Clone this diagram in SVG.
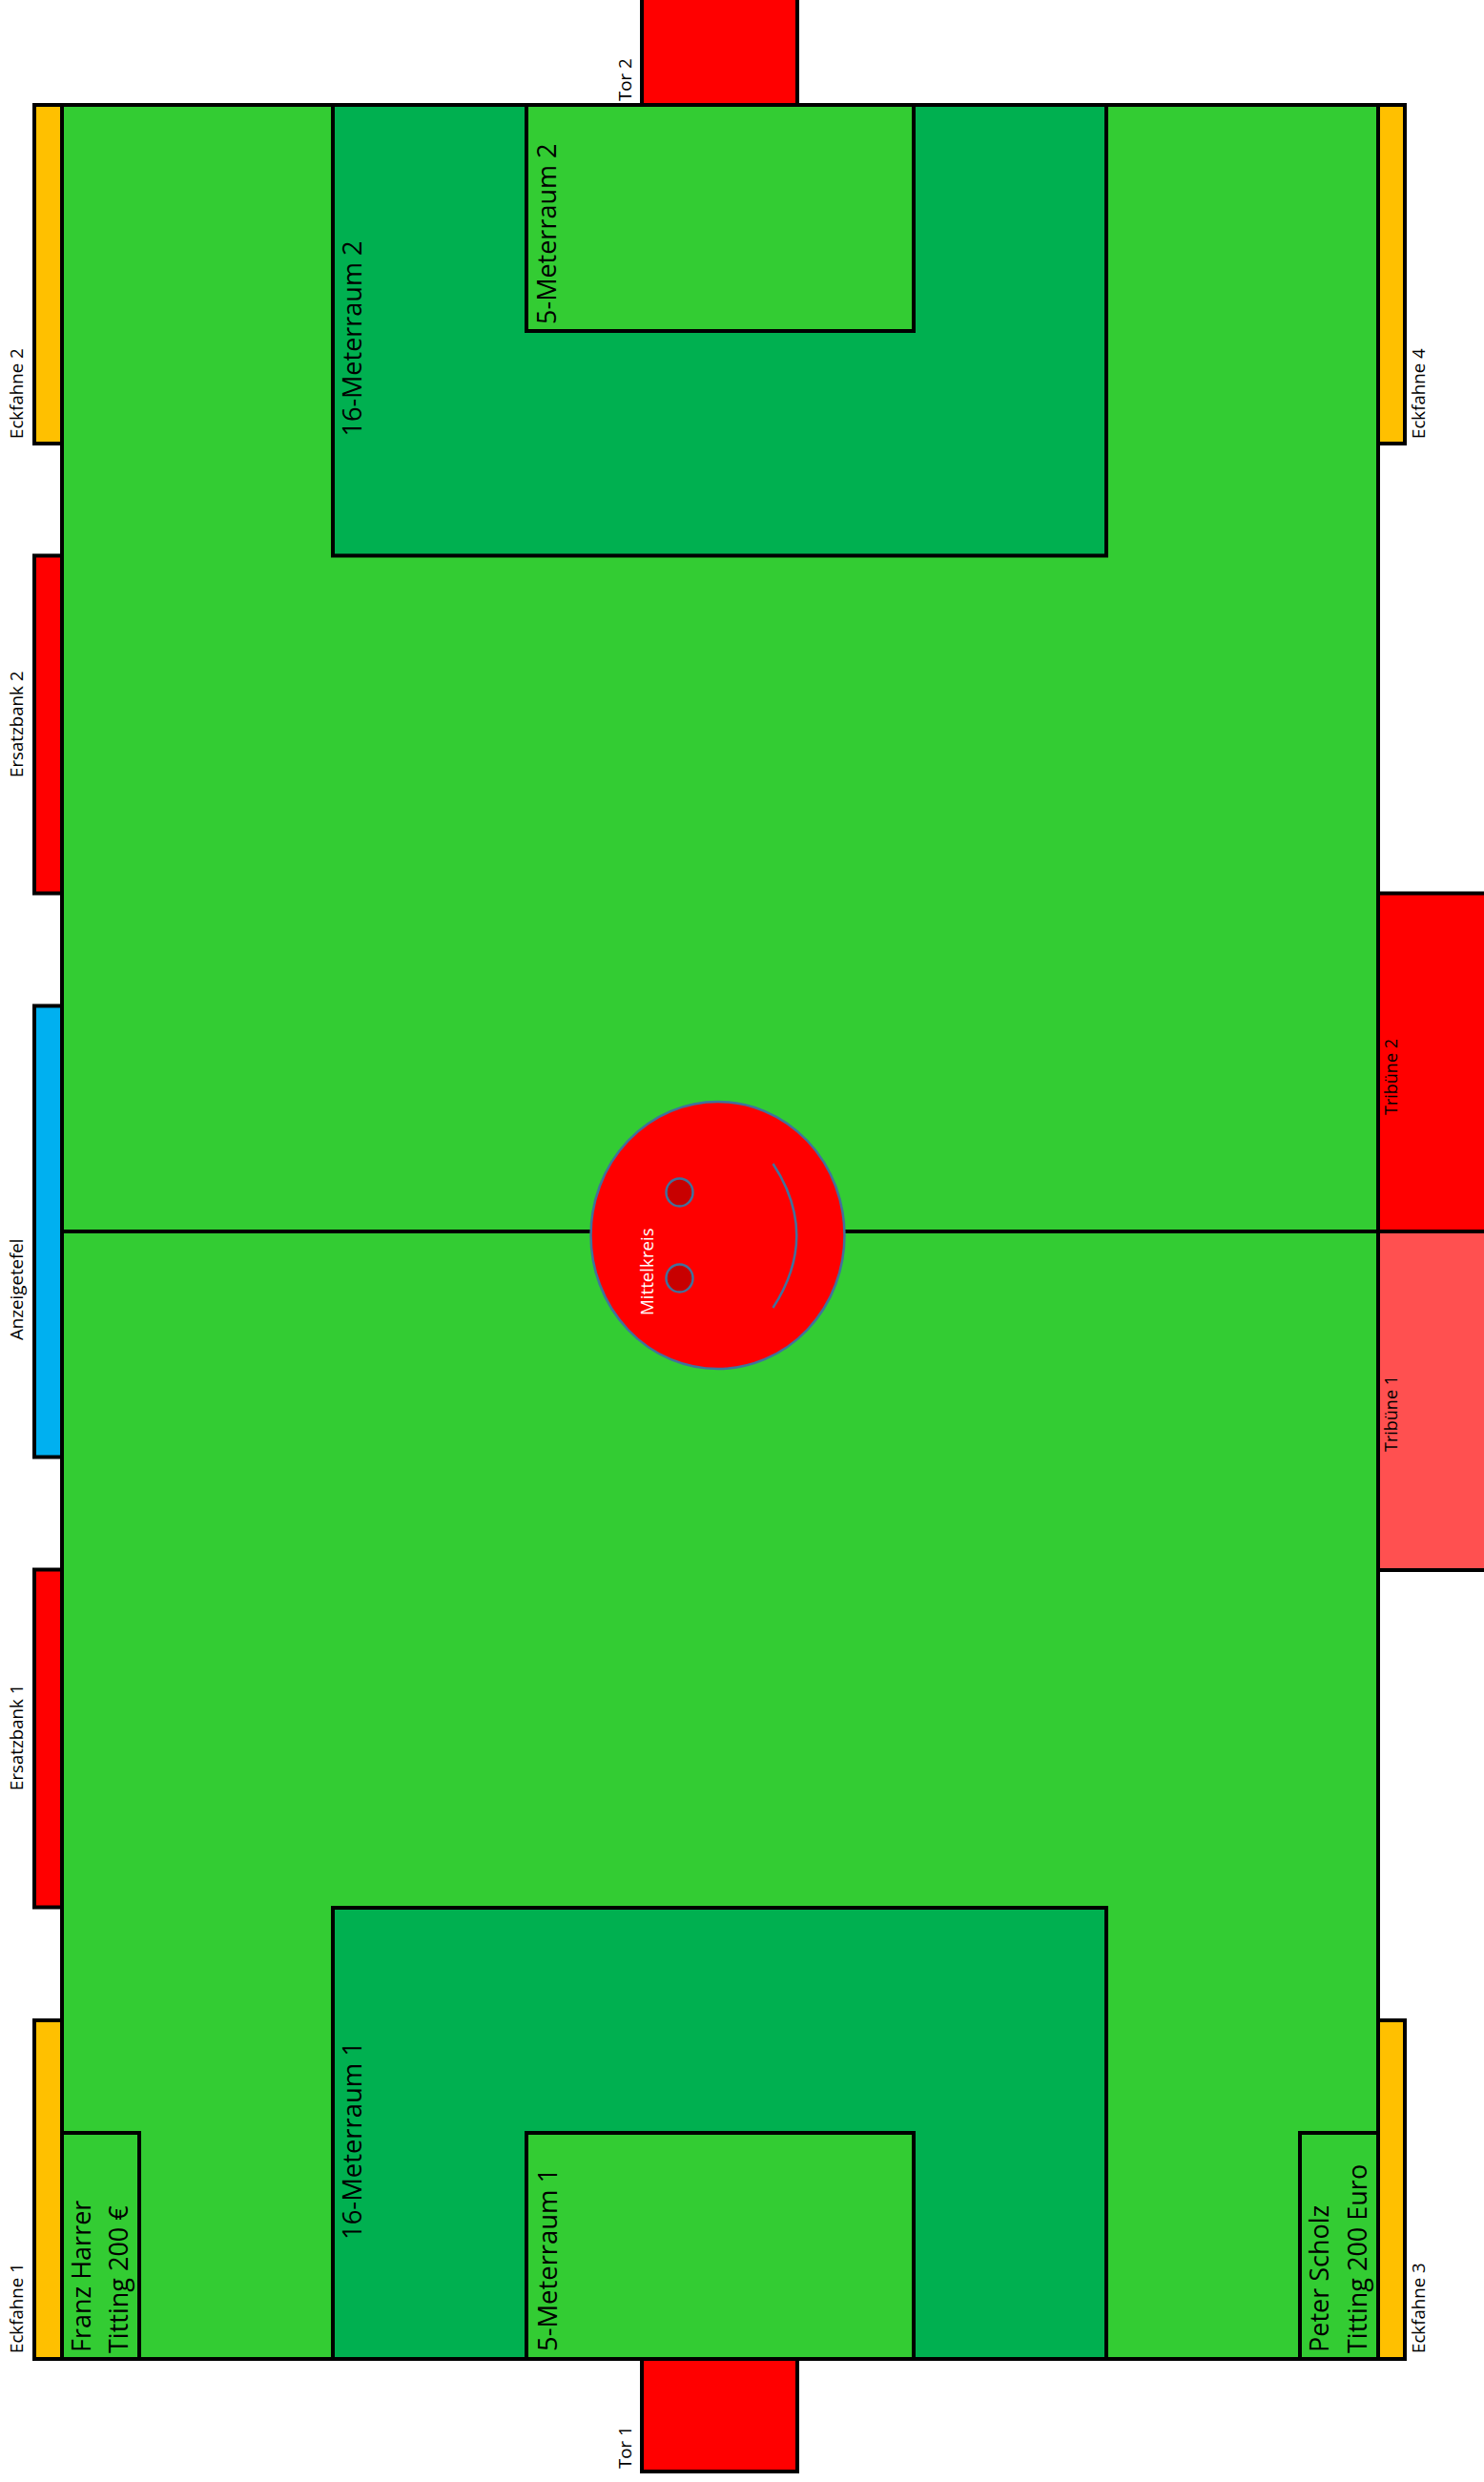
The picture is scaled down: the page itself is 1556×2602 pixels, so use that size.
<svg xmlns="http://www.w3.org/2000/svg" width="1556" height="2602" viewBox="0 0 1556 2602">
<style>
.b{stroke:#000;stroke-width:4;stroke-linejoin:miter}
.g{fill:#33cc33}.d{fill:#00b050}.y{fill:#ffc000}.r{fill:#f00}.l{fill:#ff5050}.c{fill:#00b0f0}
.n{fill:none}
text{font-family:"Open Sans","Noto Sans","Liberation Sans",sans-serif;fill:#000}
.s{font-size:18.7px}.t{font-size:18px}.m{font-size:27px}.k{font-size:27.4px}
.f{stroke:#41719c;stroke-width:2.5}
</style>
<g id="eckfahne-1"><rect class="b y" x="36" y="2118" width="29" height="355"/><text class="s" transform="translate(24 2467) rotate(-90)">Eckfahne 1</text></g>
<g id="eckfahne-2"><rect class="b y" x="36" y="110" width="29" height="355"/><text class="s" transform="translate(24 460) rotate(-90)">Eckfahne 2</text></g>
<g id="eckfahne-3"><rect class="b y" x="1445" y="2118" width="28" height="355"/><text class="s" transform="translate(1494 2467) rotate(-90)">Eckfahne 3</text></g>
<g id="eckfahne-4"><rect class="b y" x="1445" y="110" width="28" height="355"/><text class="s" transform="translate(1494 460) rotate(-90)">Eckfahne 4</text></g>
<g id="ersatzbank-2"><rect class="b r" x="36" y="582.500" width="29" height="354"/><text class="s" transform="translate(24 815) rotate(-90)">Ersatzbank 2</text></g>
<g id="ersatzbank-1"><rect class="b r" x="36" y="1645.500" width="29" height="354"/><text class="s" transform="translate(24 1877) rotate(-90)">Ersatzbank 1</text></g>
<g id="anzeigetafel"><rect class="b c" x="36" y="1054.500" width="29" height="473"/><text class="s" transform="translate(24 1405) rotate(-90)">Anzeigetefel</text></g>
<g id="tribuene-2"><rect class="b r" x="1445" y="936.500" width="115" height="354.500"/><text class="t" transform="translate(1465 1169) rotate(-90)">Tribüne 2</text></g>
<g id="tribuene-1"><rect class="b l" x="1445" y="1291" width="115" height="355"/><text class="t" transform="translate(1465 1522) rotate(-90)">Tribüne 1</text></g>
<g id="spielfeld"><rect class="b g" x="65" y="110" width="1380" height="2363"/></g>
<g id="tor-2"><rect class="b r" x="673" y="-4" width="163" height="114"/><text class="s" transform="translate(662 106) rotate(-90)">Tor 2</text></g>
<g id="tor-1"><rect class="b r" x="673" y="2472.500" width="163" height="118.500"/><text class="s" transform="translate(662 2588) rotate(-90)">Tor 1</text></g>
<g id="connectors"><line class="b" x1="65" y1="1291" x2="1445" y2="1291"/></g>
<g id="sechzehner-2"><rect class="b d" x="349" y="110" width="811" height="472.500"/><text class="m" transform="translate(379 457.500) rotate(-90)">16-Meterraum 2</text></g>
<g id="fuenfer-2"><rect class="b g" x="552" y="110" width="406" height="237"/><text class="m" transform="translate(583 340) rotate(-90)">5-Meterraum 2</text></g>
<g id="sechzehner-1"><rect class="b d" x="349" y="2000" width="811" height="473"/><text class="k" transform="translate(379 2348) rotate(-90)">16-Meterraum 1</text></g>
<g id="fuenfer-1"><rect class="b g" x="552" y="2236" width="406" height="237"/><text class="k" transform="translate(584 2465) rotate(-90)">5-Meterraum 1</text></g>
<g id="franz-harrer"><rect class="b g" x="65" y="2236" width="81" height="237"/><text class="m" transform="translate(95 2466) rotate(-90)">Franz Harrer</text><text class="m" transform="translate(134 2467) rotate(-90)">Titting 200 €</text></g>
<g id="peter-scholz"><rect class="b g" x="1363" y="2236" width="82" height="237"/><text class="m" transform="translate(1393 2466) rotate(-90)">Peter Scholz</text><text class="m" transform="translate(1433 2467) rotate(-90)">Titting 200 Euro</text></g>
<g id="mittelkreis"><ellipse class="r f" cx="752.500" cy="1295" rx="133" ry="140"/><ellipse class="f" fill="#c80000" cx="712.500" cy="1250" rx="14" ry="14.500"/><ellipse class="f" fill="#c80000" cx="712.500" cy="1340" rx="14" ry="14.500"/><path class="n f" d="M810.500 1220Q860 1295 810.500 1371"/><text class="s" transform="translate(685 1379) rotate(-90)" style="fill:#fff">Mittelkreis</text></g>
</svg>
